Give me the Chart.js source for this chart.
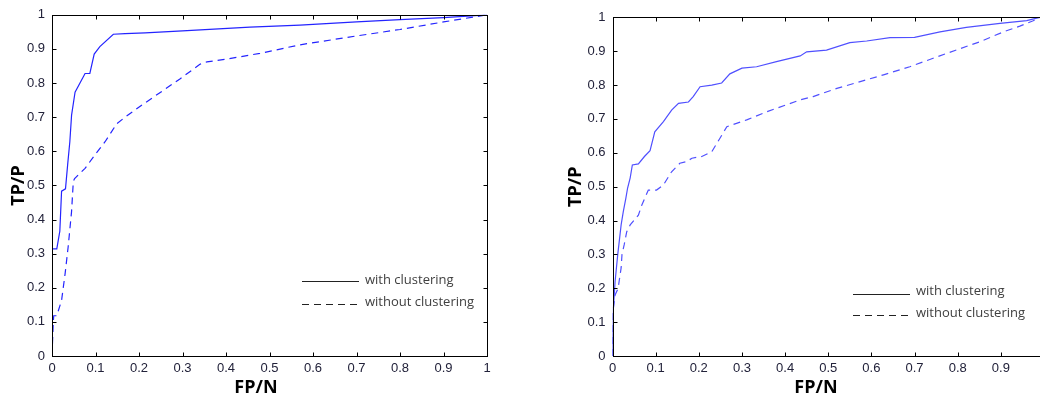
<!DOCTYPE html>
<html>
<head>
<meta charset="utf-8">
<script src="https://cdn.jsdelivr.net/npm/chart.js@4.4.0/dist/chart.umd.min.js"></script>
<style>
html, body { margin: 0; padding: 0; background: #fff; width: 1040px; height: 403px; overflow: hidden; position: relative; }
canvas { position: absolute; top: 0; }
#rocLeft { left: 0; }
#rocRight { left: 560px; }
</style>
</head>
<body>
<canvas id="rocLeft" width="500" height="403"></canvas>
<canvas id="rocRight" width="500" height="403"></canvas>
<script>
// tick values and labels (same on both axes)
var tickValues = [0, 0.1, 0.2, 0.3, 0.4, 0.5, 0.6, 0.7, 0.8, 0.9, 1];
var tickLabels = ['0', '0.1', '0.2', '0.3', '0.4', '0.5', '0.6', '0.7', '0.8', '0.9', '1'];
var seriesNames = ['with clustering', 'without clustering'];

// left plot
var leftWithFpr = [0, 0, 0.001, 0.004, 0.011, 0.018, 0.022, 0.031, 0.036, 0.041, 0.045, 0.053, 0.076, 0.087, 0.097, 0.110, 0.141, 0.168, 0.214, 0.30, 0.455, 0.57, 0.70, 0.80, 0.90, 1];
var leftWithTpr = [0, 0.245, 0.314, 0.314, 0.314, 0.366, 0.483, 0.49, 0.561, 0.628, 0.706, 0.773, 0.828, 0.828, 0.885, 0.907, 0.943, 0.945, 0.947, 0.953, 0.964, 0.970, 0.979, 0.986, 0.992, 1];
var leftWithoutFpr = [0, 0.003, 0.004, 0.011, 0.022, 0.030, 0.037, 0.045, 0.049, 0.052, 0.076, 0.099, 0.122, 0.149, 0.168, 0.206, 0.237, 0.294, 0.34, 0.356, 0.40, 0.478, 0.57, 0.70, 0.80, 0.90, 1];
var leftWithoutTpr = [0, 0.10, 0.118, 0.118, 0.163, 0.24, 0.318, 0.424, 0.512, 0.52, 0.55, 0.59, 0.628, 0.681, 0.70, 0.735, 0.762, 0.812, 0.855, 0.862, 0.87, 0.887, 0.912, 0.938, 0.957, 0.979, 1];

// right plot
var rightWithFpr = [0, 0, 0.002, 0.006, 0.012, 0.020, 0.025, 0.031, 0.035, 0.041, 0.046, 0.060, 0.074, 0.087, 0.098, 0.118, 0.137, 0.153, 0.176, 0.187, 0.203, 0.23, 0.253, 0.272, 0.30, 0.334, 0.38, 0.435, 0.45, 0.496, 0.55, 0.589, 0.643, 0.70, 0.759, 0.82, 0.898, 0.96, 0.99, 1];
var rightWithTpr = [0, 0.05, 0.14, 0.22, 0.298, 0.387, 0.426, 0.466, 0.496, 0.526, 0.564, 0.567, 0.589, 0.606, 0.662, 0.692, 0.726, 0.746, 0.75, 0.766, 0.795, 0.80, 0.806, 0.833, 0.85, 0.854, 0.869, 0.886, 0.898, 0.903, 0.925, 0.93, 0.94, 0.941, 0.957, 0.97, 0.982, 0.99, 1, 1];
var rightWithoutFpr = [0, 0.001, 0.006, 0.013, 0.020, 0.022, 0.027, 0.033, 0.041, 0.060, 0.068, 0.083, 0.102, 0.118, 0.137, 0.156, 0.172, 0.184, 0.207, 0.23, 0.249, 0.265, 0.311, 0.357, 0.435, 0.465, 0.52, 0.574, 0.628, 0.689, 0.743, 0.798, 0.852, 0.906, 0.944, 0.975, 0.99, 1];
var rightWithoutTpr = [0, 0.13, 0.18, 0.20, 0.26, 0.30, 0.328, 0.367, 0.387, 0.416, 0.446, 0.49, 0.49, 0.505, 0.544, 0.569, 0.574, 0.584, 0.589, 0.603, 0.643, 0.677, 0.697, 0.721, 0.756, 0.766, 0.79, 0.81, 0.83, 0.854, 0.879, 0.904, 0.928, 0.957, 0.974, 0.99, 1, 1];

function toPoints(xs, ys) {
    return xs.map((x, i) => ({ x: x, y: ys[i] }));
}

// box with inward ticks, x title and the little legend, matlab style
var matlabFrame = {
    id: 'matlabFrame',
    afterDraw: function(chart, args, opts) {
        var ctx = chart.ctx, a = chart.chartArea;
        var xs = chart.scales.x, ys = chart.scales.y;
        var L = Math.round(a.left) + 0.5, R = Math.round(a.right) + 0.5;
        var T = Math.round(a.top) + 0.5, B = Math.round(a.bottom) + 0.5;
        ctx.save();
        ctx.strokeStyle = '#000';
        ctx.lineWidth = 1;
        ctx.beginPath();
        xs.ticks.forEach(function(t) {
            var px = Math.round(xs.getPixelForValue(t.value)) + 0.5;
            ctx.moveTo(px, B); ctx.lineTo(px, B - 4);
            ctx.moveTo(px, T); ctx.lineTo(px, T + 4);
        });
        ys.ticks.forEach(function(t) {
            var py = Math.round(ys.getPixelForValue(t.value)) + 0.5;
            ctx.moveTo(L, py); ctx.lineTo(L + 4, py);
            ctx.moveTo(R, py); ctx.lineTo(R - 4, py);
        });
        ctx.stroke();
        ctx.strokeRect(L, T, R - L, B - T);

        // x axis title
        ctx.fillStyle = '#000';
        ctx.font = 'bold 18px "Open Sans"';
        ctx.textAlign = 'center';
        ctx.textBaseline = 'middle';
        ctx.fillText(opts.xTitle, opts.xTitleX, opts.xTitleY);

        // legend
        ctx.font = '13px "Open Sans"';
        ctx.textAlign = 'left';
        chart.data.datasets.forEach(function(ds, i) {
            var y = opts.legendY[i];
            ctx.strokeStyle = '#222';
            ctx.setLineDash(ds.borderDash || []);
            ctx.beginPath();
            ctx.moveTo(opts.legendX, y + 0.5);
            ctx.lineTo(opts.legendX + 57, y + 0.5);
            ctx.stroke();
            ctx.setLineDash([]);
            ctx.fillStyle = '#404040';
            ctx.fillText(ds.label, opts.legendX + 63, opts.legendTextY[i]);
        });
        ctx.restore();
    }
};

function makeRoc(id, withPts, withoutPts, lay) {
    var tickFont = { family: '"Liberation Sans", Arial, sans-serif', size: 13 };
    return new Chart(document.getElementById(id), {
        type: 'line',
        data: {
            datasets: [{
                label: seriesNames[0],
                data: withPts,
                borderColor: lay.color,
                borderWidth: 1.2,
                pointRadius: 0,
                tension: 0,
                fill: false
            }, {
                label: seriesNames[1],
                data: withoutPts,
                borderColor: lay.color,
                borderWidth: 1.2,
                borderDash: [7, 5],
                pointRadius: 0,
                tension: 0,
                fill: false
            }]
        },
        options: {
            responsive: false,
            animation: false,
            layout: { padding: { left: 0, right: lay.padRight, top: lay.padTop, bottom: 0 } },
            plugins: {
                legend: { display: false },
                tooltip: { enabled: false },
                matlabFrame: lay.frame
            },
            scales: {
                x: {
                    type: 'linear',
                    min: 0,
                    max: 1,
                    grid: { display: false, drawTicks: false },
                    border: { display: false },
                    afterBuildTicks: function(s) { s.ticks = tickValues.map(v => ({ value: v })); },
                    afterFit: function(s) { s.height = 47; },
                    ticks: {
                        autoSkip: false,
                        maxRotation: 0,
                        padding: 5,
                        color: '#22223a',
                        font: tickFont,
                        callback: function(v, i) { return tickLabels[i]; }
                    }
                },
                y: {
                    type: 'linear',
                    min: 0,
                    max: 1,
                    grid: { display: false, drawTicks: false },
                    border: { display: false },
                    afterBuildTicks: function(s) { s.ticks = tickValues.map(v => ({ value: v })); },
                    afterFit: function(s) { s.width = lay.yWidth; },
                    title: {
                        display: true,
                        text: 'TP/P',
                        color: '#000',
                        font: { family: '"Open Sans"', size: 18, weight: 'bold' },
                        padding: { top: lay.yTitlePad, bottom: 0 }
                    },
                    ticks: {
                        padding: 7,
                        color: '#22223a',
                        font: tickFont,
                        callback: function(v, i) { return tickLabels[i]; }
                    }
                }
            }
        },
        plugins: [matlabFrame]
    });
}

makeRoc('rocLeft', toPoints(leftWithFpr, leftWithTpr), toPoints(leftWithoutFpr, leftWithoutTpr), {
    color: '#2424ff',
    padRight: 13,
    padTop: 12.3,
    yWidth: 52,
    yTitlePad: 8,
    frame: { xTitle: 'FP/N', xTitleX: 256, xTitleY: 388, legendX: 302, legendY: [281, 304], legendTextY: [280, 302] }
});

makeRoc('rocRight', toPoints(rightWithFpr, rightWithTpr), toPoints(rightWithoutFpr, rightWithoutTpr), {
    color: '#5050ff',
    padRight: 16,
    padTop: 17.3,
    yWidth: 52.5,
    yTitlePad: 5,
    frame: { xTitle: 'FP/N', xTitleX: 256, xTitleY: 388, legendX: 293, legendY: [294, 315], legendTextY: [291, 313] }
});
</script>
</body>
</html>
